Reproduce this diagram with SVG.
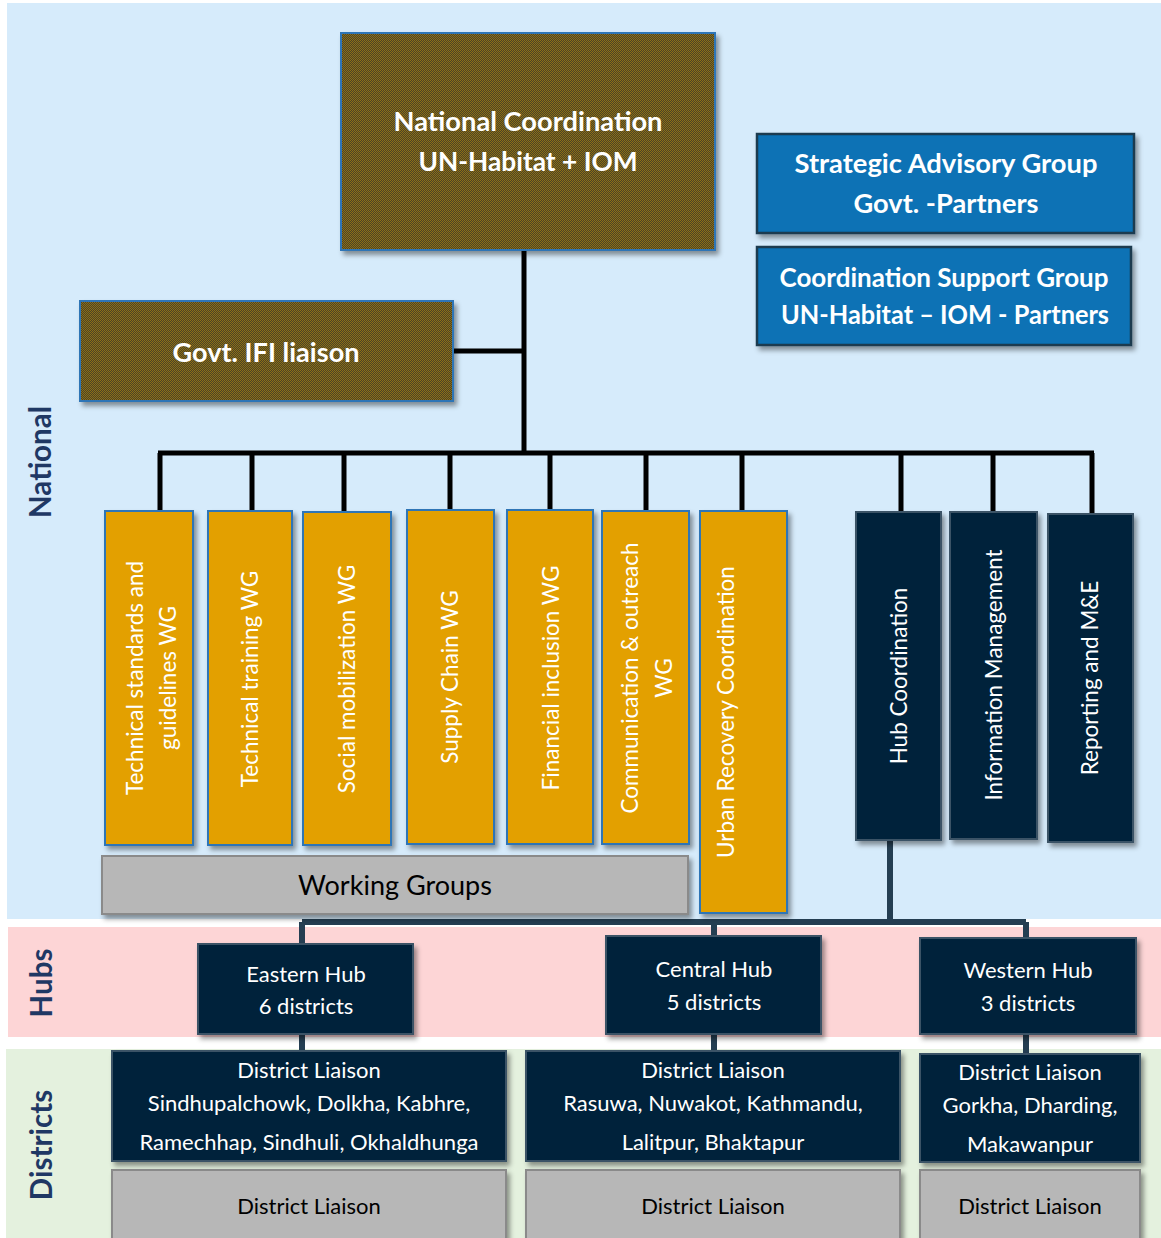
<svg xmlns="http://www.w3.org/2000/svg" width="1161" height="1238" viewBox="0 0 1161 1238">
<style>
text{font-family:Lato,"Liberation Sans",sans-serif;}
.wt{fill:#fff;font-size:22.5px;text-anchor:middle;}
.bt{fill:#fff;font-size:27px;font-weight:bold;text-anchor:middle;}
.ht{fill:#fff;font-size:22px;text-anchor:middle;}
.kt{fill:#000;font-size:22px;text-anchor:middle;}
.side{fill:#1F3864;font-size:29.5px;font-weight:bold;text-anchor:middle;}
.olive{fill:url(#chk);stroke:#2E75B6;stroke-width:2;}
.org{fill:#E3A000;stroke:#2E75B6;stroke-width:2;}
.navy{fill:#03243A;stroke:#3A5266;stroke-width:2;}
.steel{fill:#0B72B5;stroke:#1F3A4F;stroke-width:2.5;}
.gray{fill:#B7B7B7;stroke:#8A8A8A;stroke-width:2;}
.blk{stroke:#000;stroke-width:5;fill:none;}
.hub{stroke:#243E52;stroke-width:6;fill:none;}
</style>
<defs>
<pattern id="chk" patternUnits="userSpaceOnUse" width="2" height="2">
<rect width="2" height="2" fill="#4C4328"/>
<rect width="1" height="1" fill="#8C7014"/>
<rect x="1" y="1" width="1" height="1" fill="#8C7014"/>
</pattern>
<filter id="sh" x="-10%" y="-10%" width="130%" height="130%">
<feDropShadow dx="3" dy="4" stdDeviation="2.5" flood-color="#000" flood-opacity="0.4"/>
</filter>
</defs>

<g id="bands">
<rect x="7" y="3" width="1154" height="916" fill="#D6EBFB"/>
<rect x="8" y="927" width="1153" height="110" fill="#FDD5D6"/>
<rect x="6" y="1049" width="1155" height="189" fill="#E4F1DE"/>
<text class="side" transform="translate(51,462) rotate(-90)">National</text>
<text class="side" transform="translate(52,983) rotate(-90)">Hubs</text>
<text class="side" transform="translate(52,1145) rotate(-90)">Districts</text>
</g>

<g id="connectors">
<path class="blk" d="M524,250 V453 M453,351 H524 M158,453 H1094 M160,453 V511 M252,453 V511 M344,453 V512 M450,453 V510 M550,453 V510 M646,453 V511 M742,453 V511 M901,453 V512 M993,453 V512 M1092,453 V514"/>
<path class="hub" d="M890,840 V922 M302,922 H1026 M302,922 V944 M714,922 V936 M1026,922 V938 M302,1034 V1051 M714,1034 V1051 M1026,1034 V1054"/>
</g>

<g id="national">
<rect class="olive" x="341" y="33" width="374" height="217" filter="url(#sh)"/>
<text class="bt" x="528" y="131" textLength="269" lengthAdjust="spacingAndGlyphs">National Coordination</text>
<text class="bt" x="528" y="171" textLength="219" lengthAdjust="spacingAndGlyphs">UN-Habitat + IOM</text>
</g>
<g id="ifi">
<rect class="olive" x="80" y="301" width="373" height="100" filter="url(#sh)"/>
<text class="bt" x="266" y="362" textLength="187" lengthAdjust="spacingAndGlyphs">Govt. IFI liaison</text>
</g>
<g id="sag">
<rect class="steel" x="757" y="134" width="377" height="99" filter="url(#sh)"/>
<text class="bt" x="946" y="173" textLength="303" lengthAdjust="spacingAndGlyphs">Strategic Advisory Group</text>
<text class="bt" x="946" y="213" textLength="185" lengthAdjust="spacingAndGlyphs">Govt. -Partners</text>
</g>
<g id="csg">
<rect class="steel" x="757" y="247" width="374" height="98" filter="url(#sh)"/>
<text class="bt" x="944" y="287" textLength="329" lengthAdjust="spacingAndGlyphs">Coordination Support Group</text>
<text class="bt" x="945" y="324" textLength="328" lengthAdjust="spacingAndGlyphs">UN-Habitat – IOM - Partners</text>
</g>

<g id="wg1">
<rect class="org" x="105" y="511" width="88" height="334" filter="url(#sh)"/>
<text class="wt" transform="translate(149,678) rotate(-90)"><tspan x="0" y="-6">Technical standards and</tspan><tspan x="0" y="27">guidelines WG</tspan></text>
</g>
<g id="wg2">
<rect class="org" x="208" y="511" width="84" height="334" filter="url(#sh)"/>
<text class="wt" transform="translate(250,679) rotate(-90)" y="8">Technical training WG</text>
</g>
<g id="wg3">
<rect class="org" x="303" y="512" width="88" height="333" filter="url(#sh)"/>
<text class="wt" transform="translate(347,679) rotate(-90)" y="8">Social mobilization WG</text>
</g>
<g id="wg4">
<rect class="org" x="407" y="510" width="87" height="334" filter="url(#sh)"/>
<text class="wt" transform="translate(450,677) rotate(-90)" y="8">Supply Chain WG</text>
</g>
<g id="wg5">
<rect class="org" x="507" y="510" width="86" height="334" filter="url(#sh)"/>
<text class="wt" transform="translate(550,678) rotate(-90)" y="9">Financial inclusion WG</text>
</g>
<g id="wg6">
<rect class="org" x="602" y="511" width="87" height="333" filter="url(#sh)"/>
<text class="wt" transform="translate(645,678) rotate(-90)"><tspan x="0" y="-7">Communication &amp; outreach</tspan><tspan x="0" y="27">WG</tspan></text>
</g>
<g id="urban">
<rect class="org" x="700" y="511" width="87" height="402" filter="url(#sh)"/>
<text class="wt" transform="translate(743,712) rotate(-90)" y="-9">Urban Recovery Coordination</text>
</g>
<g id="hubcoord">
<rect class="navy" x="856" y="512" width="85" height="328" filter="url(#sh)"/>
<text class="wt" transform="translate(898,676) rotate(-90)" y="9">Hub Coordination</text>
</g>
<g id="infomgmt">
<rect class="navy" x="950" y="512" width="87" height="327" filter="url(#sh)"/>
<text class="wt" transform="translate(993,675) rotate(-90)" y="9">Information Management</text>
</g>
<g id="reporting">
<rect class="navy" x="1048" y="514" width="85" height="328" filter="url(#sh)"/>
<text class="wt" transform="translate(1090,678) rotate(-90)" y="8">Reporting and M&amp;E</text>
</g>
<g id="workinggroups">
<rect class="gray" x="102" y="856" width="586" height="58" filter="url(#sh)"/>
<text class="kt" style="font-size:27px" x="395" y="895">Working Groups</text>
</g>

<g id="easternhub">
<rect class="navy" x="198" y="944" width="215" height="90" filter="url(#sh)"/>
<text class="ht" x="306" y="982">Eastern Hub</text>
<text class="ht" x="306" y="1014">6 districts</text>
</g>
<g id="centralhub">
<rect class="navy" x="606" y="936" width="215" height="98" filter="url(#sh)"/>
<text class="ht" x="714" y="977">Central Hub</text>
<text class="ht" x="714" y="1010">5 districts</text>
</g>
<g id="westernhub">
<rect class="navy" x="920" y="938" width="216" height="96" filter="url(#sh)"/>
<text class="ht" x="1028" y="978">Western Hub</text>
<text class="ht" x="1028" y="1011">3 districts</text>
</g>

<g id="dl-east">
<rect class="navy" x="112" y="1051" width="394" height="110" filter="url(#sh)"/>
<text class="ht" x="309" y="1078">District Liaison</text>
<text class="ht" x="309" y="1111">Sindhupalchowk, Dolkha, Kabhre,</text>
<text class="ht" x="309" y="1150">Ramechhap, Sindhuli, Okhaldhunga</text>
</g>
<g id="dl-central">
<rect class="navy" x="526" y="1051" width="374" height="110" filter="url(#sh)"/>
<text class="ht" x="713" y="1078">District Liaison</text>
<text class="ht" x="713" y="1111">Rasuwa, Nuwakot, Kathmandu,</text>
<text class="ht" x="713" y="1150">Lalitpur, Bhaktapur</text>
</g>
<g id="dl-west">
<rect class="navy" x="920" y="1054" width="220" height="108" filter="url(#sh)"/>
<text class="ht" x="1030" y="1080">District Liaison</text>
<text class="ht" x="1030" y="1113">Gorkha, Dharding,</text>
<text class="ht" x="1030" y="1152">Makawanpur</text>
</g>
<g id="dl-east-2">
<rect class="gray" x="112" y="1170" width="394" height="80" filter="url(#sh)"/>
<text class="kt" x="309" y="1214">District Liaison</text>
</g>
<g id="dl-central-2">
<rect class="gray" x="526" y="1170" width="374" height="80" filter="url(#sh)"/>
<text class="kt" x="713" y="1214">District Liaison</text>
</g>
<g id="dl-west-2">
<rect class="gray" x="920" y="1170" width="220" height="80" filter="url(#sh)"/>
<text class="kt" x="1030" y="1214">District Liaison</text>
</g>
</svg>
